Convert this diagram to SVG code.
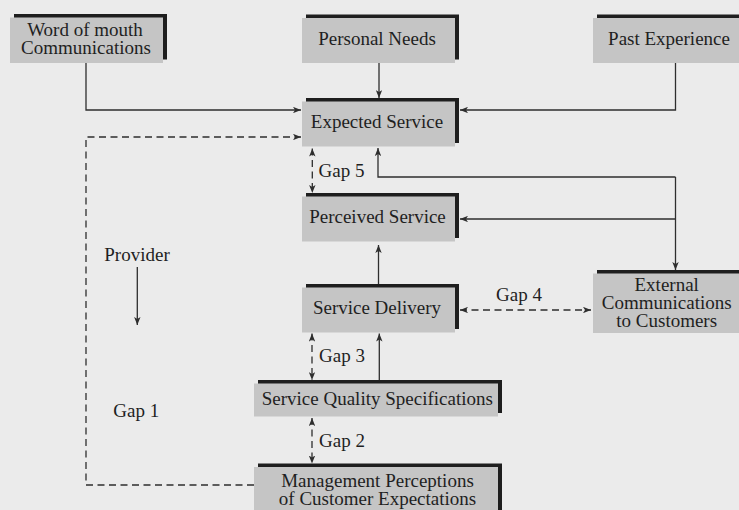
<svg xmlns="http://www.w3.org/2000/svg" width="739" height="510" viewBox="0 0 739 510">
<style>
.sh{fill:#1e1e1e}
.bx{fill:#c5c5c5}
.t{font-family:'Liberation Serif','Times New Roman',serif;font-size:19px;fill:#1f1f1f}
.m{text-anchor:middle}
.ln{fill:none;stroke:#2e2e2e;stroke-width:1.3}
.ds{stroke-dasharray:7 4.5}
</style>
<defs>
<marker id="ah" viewBox="0 0 10 8" refX="10" refY="4" markerWidth="8" markerHeight="6.5" markerUnits="userSpaceOnUse" orient="auto-start-reverse">
<path d="M0,0 L10,4 L0,8 L2.5,4 z" fill="#2e2e2e"/>
</marker>
</defs>
<rect width="739" height="510" fill="#ebebeb"/>

<g id="word-of-mouth">
<rect class="sh" x="14" y="14" width="153" height="45.5"/>
<rect class="bx" x="10" y="17.5" width="153" height="45.5"/>
<text class="t m" x="85" y="35.7">Word of mouth</text>
<text class="t m" x="86" y="53.7">Communications</text>
</g>
<g id="personal-needs">
<rect class="sh" x="306" y="14.5" width="153" height="45"/>
<rect class="bx" x="302" y="18" width="153" height="45"/>
<text class="t m" x="377" y="44.5">Personal Needs</text>
</g>
<g id="past-experience">
<rect class="sh" x="597" y="14.5" width="160" height="45"/>
<rect class="bx" x="593" y="18" width="160" height="45"/>
<text class="t m" x="669" y="45">Past Experience</text>
</g>
<g id="expected-service">
<rect class="sh" x="306" y="98" width="153" height="45"/>
<rect class="bx" x="302" y="101.5" width="153" height="45"/>
<text class="t m" x="377" y="128.3">Expected Service</text>
</g>
<g id="perceived-service">
<rect class="sh" x="306" y="193" width="153" height="45"/>
<rect class="bx" x="302" y="196.5" width="153" height="45"/>
<text class="t m" x="377.5" y="222.7">Perceived Service</text>
</g>
<g id="service-delivery">
<rect class="sh" x="306" y="284" width="153" height="45"/>
<rect class="bx" x="302" y="287.5" width="153" height="45"/>
<text class="t m" x="377" y="314">Service Delivery</text>
</g>
<g id="external-communications">
<rect class="sh" x="597" y="270" width="160" height="59.5"/>
<rect class="bx" x="593" y="273.5" width="160" height="59.5"/>
<text class="t m" x="666.7" y="290.5">External</text>
<text class="t m" x="666.7" y="308.5">Communications</text>
<text class="t m" x="666.7" y="326.5">to Customers</text>
</g>
<g id="service-quality-specifications">
<rect class="sh" x="258" y="380" width="244" height="33"/>
<rect class="bx" x="254" y="383.5" width="244" height="33"/>
<text class="t m" x="377.3" y="405">Service Quality Specifications</text>
</g>
<g id="management-perceptions">
<rect class="sh" x="258" y="463.5" width="244" height="52"/>
<rect class="bx" x="254" y="467" width="244" height="52"/>
<text class="t m" x="377.5" y="486.5">Management Perceptions</text>
<text class="t m" x="377.5" y="504.5">of Customer Expectations</text>
</g>

<g id="connectors">
<path class="ln" d="M86,63 V110 H301" marker-end="url(#ah)"/>
<path class="ln" d="M379,63 V98" marker-end="url(#ah)"/>
<path class="ln" d="M675.5,63 V110 H460" marker-end="url(#ah)"/>
<path class="ln ds" d="M254,485 H86 V137 H301" marker-end="url(#ah)"/>
<path class="ln ds" d="M312.3,148.5 V193" marker-start="url(#ah)" marker-end="url(#ah)"/>
<path class="ln" d="M675.5,177 H378 V148" marker-end="url(#ah)"/>
<path class="ln" d="M675.5,177 V270" marker-end="url(#ah)"/>
<path class="ln" d="M675.5,219 H460" marker-end="url(#ah)"/>
<path class="ln" d="M378.5,284 V245" marker-end="url(#ah)"/>
<path class="ln ds" d="M460,310 H591" marker-start="url(#ah)" marker-end="url(#ah)"/>
<path class="ln ds" d="M312,333.5 V380" marker-start="url(#ah)" marker-end="url(#ah)"/>
<path class="ln" d="M379.3,380 V333.5" marker-end="url(#ah)"/>
<path class="ln ds" d="M312,418 V463.5" marker-start="url(#ah)" marker-end="url(#ah)"/>
<path class="ln" d="M137.3,267 V325" marker-end="url(#ah)"/>
</g>

<g id="labels">
<text class="t" x="318.5" y="177.3">Gap 5</text>
<text class="t" x="496" y="300.7">Gap 4</text>
<text class="t" x="319" y="362">Gap 3</text>
<text class="t" x="319" y="446.7">Gap 2</text>
<text class="t" x="104.3" y="260.7">Provider</text>
<text class="t" x="113.3" y="416.7">Gap 1</text>
</g>
</svg>
